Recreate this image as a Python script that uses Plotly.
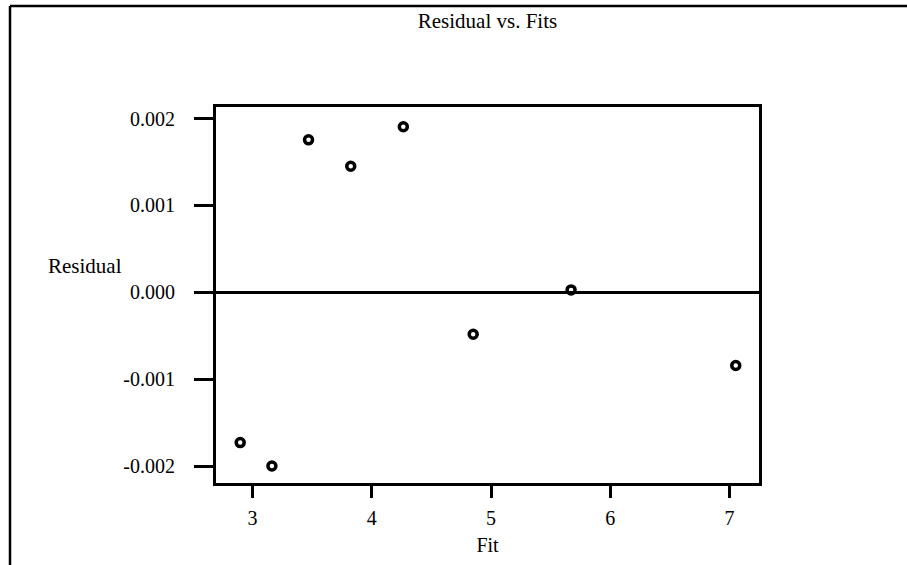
import plotly.graph_objects as go

# Data
fits = [2.896, 3.162, 3.469, 3.823, 4.264, 4.850, 5.671, 7.052]
residuals = [-0.00173, -0.00200, 0.001756, 0.001452, 0.001907, -0.000483, 0.000028, -0.000843]

x_ticks = [3, 4, 5, 6, 7]
x_ticktext = ["3", "4", "5", "6", "7"]
y_ticks = [-0.002, -0.001, 0.0, 0.001, 0.002]
y_ticktext = ["-0.002", "-0.001", "0.000", "0.001", "0.002"]

title_text = "Residual vs. Fits"
x_title = "Fit"
y_title = "Residual"

FONT = "Liberation Serif, Times New Roman, serif"
FS = 20

fig = go.Figure()
fig.add_trace(go.Scatter(
    x=fits, y=residuals, mode="markers",
    marker=dict(symbol="circle-open", size=8, color="black",
                line=dict(width=3.5, color="black")),
    showlegend=False, hoverinfo="skip",
))

W, H = 907, 565
L, R, T, B = 216, 148, 107, 78
pw, ph = W - L - R, H - T - B

def px(xpix):
    return (xpix - L) / pw

def py(ypix):
    return (H - B - ypix) / ph

fig.update_layout(
    width=W, height=H,
    margin=dict(l=L, r=R, t=T, b=B, pad=0),
    paper_bgcolor="white", plot_bgcolor="white",
    font=dict(family=FONT, color="black", size=FS),
    title=dict(text=title_text, x=0.5, xref="paper", y=1 - 21 / H, yanchor="middle",
               xanchor="center", font=dict(family=FONT, size=FS + 1, color="black")),
    xaxis=dict(
        range=[2.693, 7.247], tickvals=x_ticks, ticktext=x_ticktext,
        showgrid=False, zeroline=False,
        showline=True, linecolor="black", linewidth=3, mirror=True,
        ticks="outside", ticklen=12, tickwidth=3, tickcolor="black",
        ticklabelstandoff=3,
        tickfont=dict(family=FONT, size=FS, color="black"),
        title=dict(text=x_title, standoff=10, font=dict(family=FONT, size=FS, color="black")),
    ),
    yaxis=dict(
        range=[-0.0021955, 0.002134], tickvals=y_ticks, ticktext=y_ticktext,
        showgrid=False,
        zeroline=True, zerolinecolor="black", zerolinewidth=3,
        showline=True, linecolor="black", linewidth=3, mirror=True,
        ticks="outside", ticklen=19, tickwidth=3, tickcolor="black",
        ticklabelstandoff=15,
        tickfont=dict(family=FONT, size=FS, color="black"),
    ),
    annotations=[dict(
        text=y_title, xref="paper", yref="paper", x=px(46), y=py(268),
        xanchor="left", yanchor="middle", showarrow=False,
        font=dict(family=FONT, size=FS + 1, color="black"),
    )],
    shapes=[
        dict(type="line", xref="paper", yref="paper", x0=px(10), x1=px(910),
             y0=py(5), y1=py(5), line=dict(color="black", width=2.5)),
        dict(type="line", xref="paper", yref="paper", x0=px(10), x1=px(10),
             y0=py(5), y1=py(570), line=dict(color="black", width=2.5)),
    ],
)

fig.write_html("out.html")
